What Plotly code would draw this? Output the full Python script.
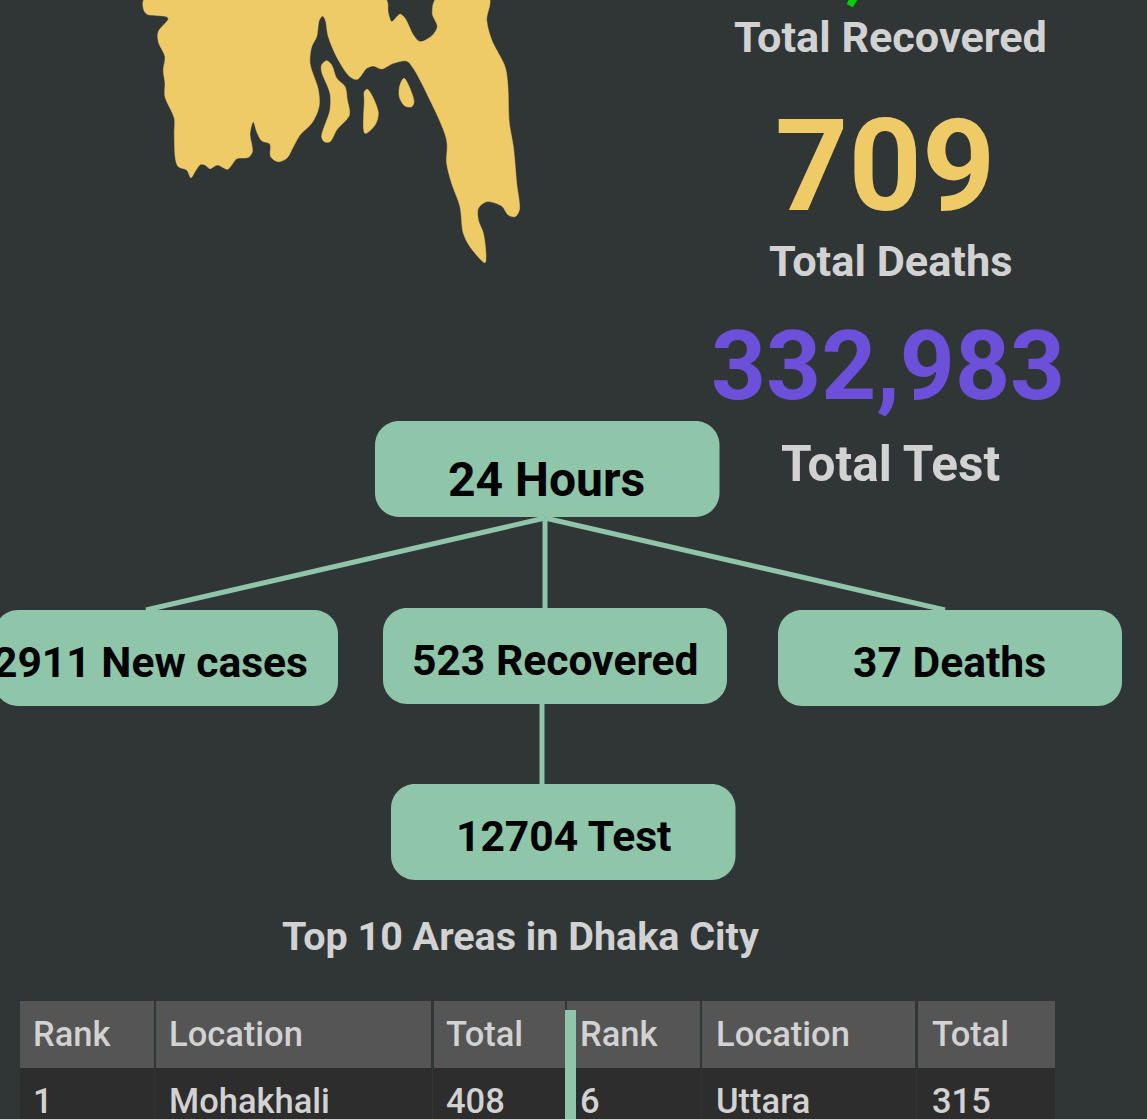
import plotly.graph_objects as go

BG = "#303636"
GOLD = "#EFCB68"
MINT = "#8FC5A9"
GREY = "#D2D2D2"
PURPLE = "#6C50D9"
FONT = "Roboto"

stat_labels = ["Total Recovered", "Total Deaths", "Total Test"]
stat_values = ["709", "332,983"]
root_label = "24 Hours"
child_labels = ["2911 New cases", "523 Recovered", "37 Deaths"]
leaf_label = "12704 Test"
table_title = "Top 10 Areas in Dhaka City"
table_headers = ["Rank", "Location", "Total", "Rank", "Location", "Total"]
table_row = ["1", "Mohakhali", "408", "6", "Uttara", "315"]

map_outline = [(45,-6),(40,25),(50,42),(110,50),(115,57),(85,95),(85,125),(105,170),(100,210),(105,250),(105,290),
 (133,355),(133,400),(137,480),(145,500),(170,510),(183,533),(195,515),(212,493),(225,495),(240,506),(262,495),
 (280,503),(293,508),(305,495),(320,476),(355,472),(367,455),(360,400),(370,365),(380,395),(395,422),(420,432),
 (422,470),(445,485),(470,475),(490,440),(510,405),(545,370),(567,320),(565,270),(540,190),(545,140),(560,110),
 (568,60),(578,48),(586,60),(595,110),(625,180),(660,230),(682,238),(710,205),(730,198),(755,207),(790,190),
 (830,183),(850,205),(890,280),(950,420),(950,490),(965,550),(990,620),(1000,700),(1020,740),(1065,788),(1068,770),
 (1060,700),(1045,660),(1045,625),(1070,605),(1115,618),(1135,645),(1155,650),(1168,630),(1160,550),(1150,440),
 (1138,370),(1133,250),(1125,200),(1085,120),(1070,60),(1077,-6),(920,-6),(907,40),(922,80),(905,108),(870,125),
 (850,105),(825,55),(810,43),(785,65),(775,40),(765,-6),(45,-6)]
island_a = [(590,182),(605,195),(620,235),(645,260),(652,300),(658,345),(620,390),(600,425),(583,425),(575,410),
 (600,330),(600,280),(575,215),(575,195),(590,182)]
island_b = [(712,268),(725,285),(745,340),(735,375),(705,400),(703,300),(703,275),(712,268)]
island_c = [(822,235),(852,305),(845,320),(825,318),(808,290),(810,255),(822,235)]

def to_page(points):
    return [130 + p[0] / 3 for p in points], [p[1] / 3 for p in points]

fig = go.Figure()
for outline in (map_outline, island_a, island_b, island_c):
    xs, ys = to_page(outline)
    fig.add_trace(go.Scatter(x=xs, y=ys, mode="lines", fill="toself", fillcolor=GOLD,
                             line=dict(color=GOLD, width=0.5, shape="spline", smoothing=0.9),
                             hoverinfo="skip", showlegend=False))

shapes = []
def rrect(x0, y0, x1, y1, r, color):
    k = r * 0.45
    d = (f"M{x0+r},{y0} L{x1-r},{y0} C{x1-k},{y0} {x1},{y0+k} {x1},{y0+r} L{x1},{y1-r} "
         f"C{x1},{y1-k} {x1-k},{y1} {x1-r},{y1} L{x0+r},{y1} C{x0+k},{y1} {x0},{y1-k} {x0},{y1-r} "
         f"L{x0},{y0+r} C{x0},{y0+k} {x0+k},{y0} {x0+r},{y0} Z")
    shapes.append(dict(type="path", path=d, fillcolor=color, line=dict(width=0), layer="below"))
def rect(x0, y0, x1, y1, color, layer="below"):
    shapes.append(dict(type="rect", x0=x0, y0=y0, x1=x1, y1=y1, fillcolor=color, line=dict(width=0), layer=layer))
def line(x0, y0, x1, y1):
    shapes.append(dict(type="line", x0=x0, y0=y0, x1=x1, y1=y1, line=dict(color=MINT, width=5), layer="below"))

line(545, 518, 146, 610); line(545, 518, 545, 608); line(545, 518, 945, 610); line(542, 704, 542, 784)
R = 24
rrect(375, 421, 719.5, 517, R, MINT)
rrect(-6, 610, 338, 706, R, MINT)
rrect(383, 608, 727, 704, R, MINT)
rrect(778, 610, 1122, 706, R, MINT)
rrect(391, 784, 735.5, 880, R, MINT)

cols = [(20,154),(156,431),(434,565),(567,700),(702,915),(918,1055)]
for x0, x1 in cols:
    rect(x0, 1001, x1, 1068, "#555555")
rect(20, 1068, 1055, 1119, "#2D2D2D")
for x in (155, 432.5, 566, 701, 916.5):
    rect(x - 0.5, 1068, x + 0.5, 1119, "#333535")
rect(565, 1010, 576, 1119, MINT)
# fragment of the clipped green figure at the top edge
shapes.append(dict(type="path", path="M846.7,4 L852.7,7.3 L858,-1 L849,-1 Z", fillcolor="#00D000", line=dict(width=0)))

anns = []
def text(t, x, y, size, color, weight=700, anchor="center"):
    anns.append(dict(text=t, x=x, y=y, xref="x", yref="y", showarrow=False, xanchor=anchor, yanchor="middle",
                     font=dict(family=FONT, size=size, color=color, weight=weight)))

text(stat_labels[0], 890.5, 37.5, 43.2, GREY)
text(stat_values[0], 885, 165.5, 128, GOLD)
text(stat_labels[1], 890.5, 261.5, 43.3, GREY)
text(stat_values[1], 888, 365.5, 96, PURPLE)
text(stat_labels[2], 890, 464, 49.5, GREY)
text(root_label, 546.5, 479.5, 48, "#000000")
text(child_labels[0], 150, 662, 42.6, "#000000")
text(child_labels[1], 555, 659.5, 42.6, "#000000")
text(child_labels[2], 949, 662, 42.6, "#000000")
text(leaf_label, 563, 835.5, 42.6, "#000000")
text(table_title, 520, 936.5, 39.5, GREY)
lefts = [31, 167, 444, 578, 714, 930]
for x, h, v in zip(lefts, table_headers, table_row):
    text(h, x, 1034, 34.5, GREY, weight=500, anchor="left")
    text(v, x, 1101, 34.5, GREY, weight=500, anchor="left")

fig.update_layout(
    width=1147, height=1119, margin=dict(l=0, r=0, t=0, b=0),
    paper_bgcolor=BG, plot_bgcolor=BG, shapes=shapes, annotations=anns, showlegend=False,
    xaxis=dict(range=[0, 1147], visible=False, fixedrange=True),
    yaxis=dict(range=[1119, 0], visible=False, fixedrange=True),
)
fig.write_html("out.html", config={"displayModeBar": False},
               post_script=f"document.body.style.margin='0';document.body.style.overflow='hidden';document.body.style.background='{BG}';")
